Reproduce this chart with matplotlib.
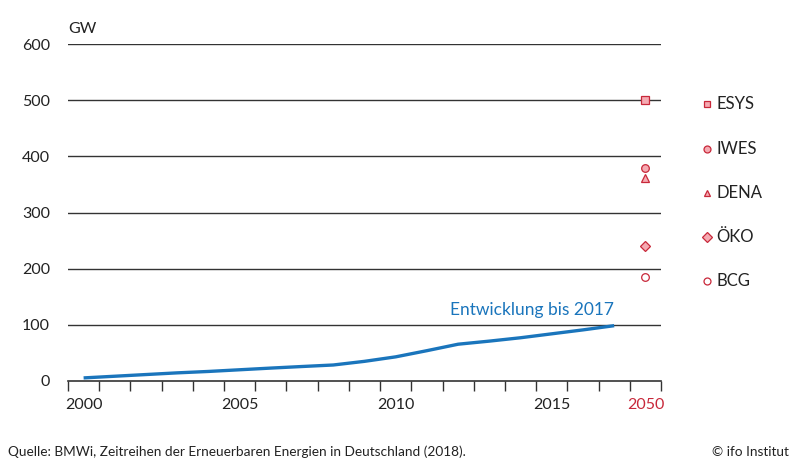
import matplotlib
matplotlib.use("Agg")
import matplotlib.pyplot as plt

plt.rcParams['font.family'] = ['Lato', 'DejaVu Sans']

# Wind + PV capacity in Germany, GW
years = list(range(2000, 2018))
capacity = [5.5, 8.5, 11.5, 14.5, 17.0, 20.0, 23.0, 25.8, 28.5,
            35.0, 43.0, 54.0, 65.5, 71.0, 77.0, 84.0, 91.0, 98.5]

# scenarios for 2050
scenarios = ['ESYS', 'IWES', 'DENA', 'ÖKO', 'BCG']
scen_values = [500, 379, 361, 240, 186]
scen_markers = ['s', 'o', '^', 'D', 'o']
scen_fill = ['#f5aab2', '#f5aab2', '#f5aab2', '#f5aab2', 'white']

tick_years = [2000, 2005, 2010, 2015]
yticks = [0, 100, 200, 300, 400, 500, 600]

blue = '#1a75bc'
red = '#c8283a'
dark = '#333333'

fig = plt.figure(figsize=(7.9, 4.59), dpi=100)
ax = fig.add_axes([68/790, 78/459, 593/790, 337/459])

x = list(range(len(years)))
ax.plot(x, capacity, color=blue, lw=2.4, solid_capstyle='butt', zorder=3)
ax.text(x[-1], 112, 'Entwicklung bis 2017', color=blue, fontsize=12.5,
        ha='right', va='bottom')

x50 = len(years)
for v, m, f in zip(scen_values, scen_markers, scen_fill):
    size = 5 if m == 'D' else 5.5
    ax.plot(x50, v, marker=m, ms=size, mfc=f, mec=red, mew=0.9,
            clip_on=False, zorder=4)

ax.set_xlim(-0.5, x50 + 0.5)
ax.set_ylim(0, 600)

for yv in yticks[1:]:
    ax.axhline(yv, color=dark, lw=1.0, zorder=1)

ax.set_yticks(yticks)
ax.set_yticklabels([str(v) for v in yticks], fontsize=11.5, color='#222222')
ax.tick_params(axis='y', length=0, pad=13)

# ticks at band edges, labels at centres
ax.set_xticks([i - 0.5 for i in range(x50 + 2)])
ax.set_xticklabels([])
ax.tick_params(axis='x', which='major', length=7, width=1, color=dark,
               direction='out')
ax.set_xticks([years.index(y) for y in tick_years] + [x50], minor=True)
ax.set_xticklabels([str(y) for y in tick_years] + ['2050'], minor=True,
                   fontsize=11.5)
ax.tick_params(axis='x', which='minor', length=0, pad=12)
for lbl in ax.get_xticklabels(minor=True):
    lbl.set_color('#222222')
ax.get_xticklabels(minor=True)[-1].set_color(red)

for side in ['top', 'right', 'left']:
    ax.spines[side].set_visible(False)
ax.spines['bottom'].set_color(dark)
ax.spines['bottom'].set_linewidth(1.2)

ax.text(0, 1.025, 'GW', transform=ax.transAxes, fontsize=11.5, va='bottom',
        color='#222222')

# legend
leg_y = [104, 149, 193, 237, 281]
for name, m, f, yy in zip(scenarios, scen_markers, scen_fill, leg_y):
    size = 5 if m == 'D' else 5
    fig.lines.append(plt.Line2D([707/790], [1 - yy/459], marker=m, ms=size,
                                mfc=f, mec=red, mew=0.9,
                                transform=fig.transFigure))
    fig.text(716/790, 1 - yy/459, name, fontsize=12, va='center',
             color='#222222')

fig.text(8/790, 1 - 452/459, 'Quelle: BMWi, Zeitreihen der Erneuerbaren Energien in Deutschland (2018).',
         fontsize=9.8, va='center', color='#222222')
fig.text(789/790, 1 - 452/459, '© ifo Institut', fontsize=9.8, va='center',
         ha='right', color='#222222')

fig.savefig('out.png', dpi=100)
